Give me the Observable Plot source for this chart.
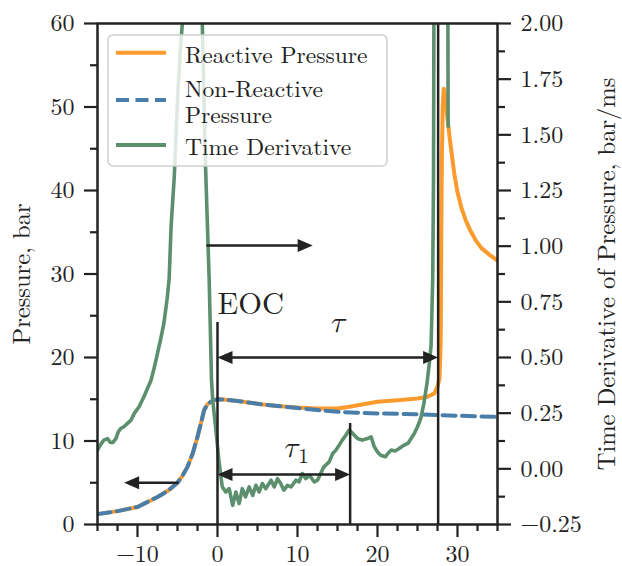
<!DOCTYPE html>
<html>
<head>
<meta charset="utf-8">
<script src="https://cdn.jsdelivr.net/npm/d3@7"></script>
<script src="https://cdn.jsdelivr.net/npm/@observablehq/plot@0.6"></script>
<style>
  body { margin: 0; background: #fff; }
  #wrap { position: relative; width: 622px; height: 566px; }
</style>
</head>
<body>
<div id="wrap"></div>
<script>
// ---------- data ----------
const reactiveTime = [-15,-12.5,-10,-7.5,-6.25,-5,-4.4,-3.75,-3.1,-2.5,-2.0,-1.67,-1.25,-0.83,-0.4,0,1,2.5,5.4,7.5,10,12.5,15,16.5,18.75,20,22.9,25,26.25,27.1,27.5,27.75,27.9,27.95,28.0,28.05,28.15,28.28,28.4,28.5,28.65,28.8,29.0,29.3,29.6,30.0,30.5,31.0,31.6,32.3,33.0,34.0,35.0];
const reactivePressure = [1.24,1.6,2.1,3.3,4.0,5.0,5.8,6.9,8.5,10.5,12.4,13.7,14.4,14.7,14.9,15.0,14.95,14.8,14.4,14.2,14.0,13.9,13.9,14.1,14.5,14.7,14.9,15.1,15.3,15.7,16.5,17.5,22,30,38,44,50,52.2,51.6,50.8,49.5,48.2,46.5,44.2,42.0,39.8,37.9,36.5,35.2,34.0,33.1,32.3,31.6];

const nonReactiveTime = [-15,-12.5,-10,-7.5,-6.25,-5,-4.4,-3.75,-3.1,-2.5,-2.0,-1.67,-1.25,-0.83,-0.4,0,1,2.5,5.4,7.5,10,12.5,15,17.5,20,22.9,25,27.5,30,32.5,35];
const nonReactivePressure = [1.24,1.6,2.1,3.3,4.0,5.0,5.8,6.9,8.5,10.5,12.4,13.7,14.4,14.7,14.9,15.0,14.95,14.8,14.4,14.2,13.95,13.7,13.5,13.38,13.3,13.25,13.2,13.1,13.03,12.96,12.88];

const derivativeTime = [-15,-14.6,-14.2,-13.75,-13.4,-13.1,-12.7,-12.4,-12.1,-11.7,-11.25,-10.8,-10.4,-9.8,-9.2,-8.75,-8.3,-7.9,-7.5,-7.1,-6.7,-6.3,-6.05,-5.8,-5.4,-5.0,-4.7,-4.4,-3.6,-2.6,-1.9,-1.5,-1.04,-0.75,-0.6,-0.2,0.2,0.6,1.04,1.46,1.9,2.3,2.7,3.1,3.5,3.96,4.4,4.8,5.2,5.6,6.04,6.7,7.1,7.5,7.9,8.3,8.75,9.2,9.8,10.2,10.6,11.04,11.5,12.1,12.5,12.9,13.3,13.96,14.4,14.8,15.2,15.6,16.04,16.45,16.9,17.5,18.1,18.75,19.2,19.6,20.0,20.4,21.0,21.3,21.7,22.2,22.7,23.3,23.8,24.2,24.6,25.0,25.4,25.8,26.2,26.5,26.7,26.9,27.0,27.05,27.3,28.5,28.8,28.83];
const derivativeValue = [0.084,0.11,0.129,0.136,0.118,0.118,0.136,0.166,0.181,0.189,0.204,0.219,0.249,0.279,0.324,0.361,0.399,0.455,0.519,0.583,0.654,0.763,0.849,1.089,1.314,1.659,1.85,2.0,3.0,3.2,2.0,1.363,0.849,0.399,0.309,0.174,0.028,-0.081,-0.104,-0.089,-0.164,-0.104,-0.156,-0.089,-0.126,-0.081,-0.119,-0.074,-0.104,-0.066,-0.089,-0.051,-0.081,-0.044,-0.066,-0.096,-0.074,-0.081,-0.051,-0.059,-0.021,-0.044,-0.029,-0.059,-0.051,-0.021,0.009,0.031,0.069,0.084,0.106,0.129,0.151,0.174,0.159,0.136,0.129,0.136,0.144,0.099,0.076,0.061,0.054,0.069,0.084,0.08,0.091,0.106,0.114,0.136,0.159,0.189,0.226,0.294,0.388,0.481,0.556,0.849,1.299,2.0,3.2,3.2,2.0,1.539];

const seriesNames = ["Reactive Pressure", "Non-Reactive\nPressure", "Time Derivative"];
const seriesColors = ["#fb9a2d", "#4a7eaa", "#5b8f6d"];

const xMajorTicks = [-10, 0, 10, 20, 30];
const xMinorTicks = [-15, -12.5, -7.5, -5, -2.5, 2.5, 5, 7.5, 12.5, 15, 17.5, 22.5, 25, 27.5, 32.5, 35];
const pressureMajorTicks = [0, 10, 20, 30, 40, 50, 60];
const pressureMinorTicks = [5, 15, 25, 35, 45, 55];
const derivMajorTicks = [-0.25, 0, 0.25, 0.5, 0.75, 1.0, 1.25, 1.5, 1.75, 2.0];
const derivMinorTicks = [-0.125, 0.125, 0.375, 0.625, 0.875, 1.125, 1.375, 1.625, 1.875];

// annotations
const markerTime = [0, 16.58, 27.58];
const markerTop = [24.2, 12.1, 60];
const arrowStart = [0, 0, -1.25, -5];
const arrowEnd = [27.58, 16.58, 11.9, -11.67];
const arrowLevel = [20, 6, 33.4, 5];
const arrowBoth = [true, true, false, false];

// ---------- helpers ----------
const FONT = "Latin Modern Roman";
const MATH = "Latin Modern Math, Latin Modern Roman";
const P_MAX = 60, D_MIN = -0.25, D_MAX = 2.0;
const toP = d => (d - D_MIN) / (D_MAX - D_MIN) * P_MAX;
const toD = p => D_MIN + p / P_MAX * (D_MAX - D_MIN);
const minus = s => s.replace("-", "\u2212");

const reactive = reactiveTime.map((t, i) => ({t, p: reactivePressure[i]}));
const nonReactive = nonReactiveTime.map((t, i) => ({t, p: nonReactivePressure[i]}));
const deriv = derivativeTime.map((t, i) => ({t, d: derivativeValue[i]}));
const markers = markerTime.map((t, i) => ({t, top: markerTop[i]}));
const arrows = arrowStart.map((x1, i) => ({x1, x2: arrowEnd[i], y: arrowLevel[i], both: arrowBoth[i]}));
const heads = [];
arrows.forEach(a => {
  const dir = Math.sign(a.x2 - a.x1);
  heads.push({x: a.x2, y: a.y, dir});
  if (a.both) heads.push({x: a.x1, y: a.y, dir: -dir});
});

const HL = 15, HW = 13;
const headRight = {draw(ctx) { ctx.moveTo(0, 0); ctx.lineTo(-HL, -HW / 2); ctx.lineTo(-HL, HW / 2); ctx.closePath(); }};
const headLeft = {draw(ctx) { ctx.moveTo(0, 0); ctx.lineTo(HL, -HW / 2); ctx.lineTo(HL, HW / 2); ctx.closePath(); }};

const ink = "#222";
const tickW = 2.2;

const plot = Plot.plot({
  width: 622,
  height: 566,
  marginLeft: 97,
  marginRight: 125,
  marginTop: 23,
  marginBottom: 42,
  x: {domain: [-15, 35]},
  y: {domain: [0, 60]},
  style: {fontFamily: FONT, fontSize: "24px", color: ink, background: "white", overflow: "visible"},
  marks: [
    Plot.line(reactive, {x: "t", y: "p", stroke: seriesColors[0], strokeWidth: 4, clip: true}),
    Plot.line(nonReactive, {x: "t", y: "p", stroke: seriesColors[1], strokeWidth: 4, strokeDasharray: "13,6.5", clip: true}),
    Plot.line(deriv, {x: "t", y: d => toP(d.d), stroke: seriesColors[2], strokeWidth: 3.6, clip: true}),
    Plot.ruleX(markers, {x: "t", y1: 0, y2: "top", stroke: ink, strokeWidth: 2.5}),
    Plot.arrow(arrows.filter(a => a.both), {x1: "x1", x2: "x2", y1: "y", y2: "y", stroke: ink, strokeWidth: 2.5, headLength: 0, insetStart: 10, insetEnd: 10}),
    Plot.arrow(arrows.filter(a => !a.both), {x1: "x1", x2: "x2", y1: "y", y2: "y", stroke: ink, strokeWidth: 2.5, headLength: 0, insetEnd: 10}),
    Plot.dot(heads.filter(h => h.dir > 0), {x: "x", y: "y", r: 1, symbol: headRight, fill: ink, stroke: "none"}),
    Plot.dot(heads.filter(h => h.dir < 0), {x: "x", y: "y", r: 1, symbol: headLeft, fill: ink, stroke: "none"}),
    Plot.text([{x: 0, y: 26.4, s: "EOC"}], {x: "x", y: "y", text: "s", textAnchor: "start", lineAnchor: "middle", fontSize: 30.5, fontFamily: FONT, fill: ink}),
    Plot.text([{x: 14.98, y: 24.23, s: "\u03C4"}], {x: "x", y: "y", text: "s", textAnchor: "middle", lineAnchor: "middle", fontSize: 30, fontStyle: "italic", fontFamily: MATH, fill: ink}),
    Plot.text([{x: 8.17, y: 9.23, s: "\u03C4"}], {x: "x", y: "y", text: "s", textAnchor: "start", lineAnchor: "middle", fontSize: 30, fontStyle: "italic", fontFamily: MATH, fill: ink}),
    Plot.text([{x: 10.1, y: 8.16, s: "1"}], {x: "x", y: "y", text: "s", textAnchor: "start", lineAnchor: "middle", fontSize: 21, fontFamily: FONT, fill: ink}),
    Plot.frame({stroke: ink, strokeWidth: 2.5}),
    Plot.axisX({ticks: xMajorTicks, tickSize: 13, tickPadding: 7, tickFormat: d => minus(String(d)), strokeWidth: tickW, label: null, fontSize: 24, fontFamily: FONT}),
    Plot.axisX({ticks: xMinorTicks, tickSize: 7, tickFormat: () => "", strokeWidth: tickW, label: null}),
    Plot.axisY({anchor: "left", ticks: pressureMajorTicks, tickSize: 13, tickPadding: 10, tickFormat: d => String(d), strokeWidth: tickW, label: null, fontSize: 24, fontFamily: FONT}),
    Plot.axisY({anchor: "left", ticks: pressureMinorTicks, tickSize: 7, tickFormat: () => "", strokeWidth: tickW, label: null}),
    Plot.axisY({anchor: "right", ticks: derivMajorTicks.map(toP), tickSize: 13, tickPadding: 10, tickFormat: p => { let v = toD(p); if (Math.abs(v) < 1e-9) v = 0; return minus(v.toFixed(2)); }, strokeWidth: tickW, label: null, fontSize: 24, fontFamily: FONT}),
    Plot.axisY({anchor: "right", ticks: derivMinorTicks.map(toP), tickSize: 7, tickFormat: () => "", strokeWidth: tickW, label: null}),
    Plot.text(["Pressure, bar"], {text: d => d, frameAnchor: "left", dx: -75, rotate: -90, textAnchor: "middle", lineAnchor: "middle", fontSize: 24.5, fontFamily: FONT, fill: ink}),
    Plot.text(["Time Derivative of Pressure, bar/ms"], {text: d => d, frameAnchor: "right", dx: 110, rotate: -90, textAnchor: "middle", lineAnchor: "middle", fontSize: 24.5, fontFamily: FONT, fill: ink})
  ]
});

const wrap = document.getElementById("wrap");
wrap.appendChild(plot);

// ---------- legend (overlay inside the plot area) ----------
const legend = d3.select(wrap).append("svg")
  .attr("width", 282).attr("height", 134)
  .style("position", "absolute").style("left", "107px").style("top", "34px")
  .attr("font-family", FONT);
legend.append("rect").attr("x", 1).attr("y", 1).attr("width", 279).attr("height", 131).attr("rx", 5)
  .attr("fill", "white").attr("fill-opacity", 0.8).attr("stroke", "#d0d0d0").attr("stroke-width", 1.5);
const rowY = [18.7, 66, 111];
const dashes = [null, "13,6.5", null];
const LINE_GAP = 25.5;
seriesNames.forEach((name, i) => {
  legend.append("line").attr("x1", 9).attr("x2", 59).attr("y1", rowY[i]).attr("y2", rowY[i])
    .attr("stroke", seriesColors[i]).attr("stroke-width", 4).attr("stroke-dasharray", dashes[i]);
  const lines = name.split("\n");
  const txt = legend.append("text")
    .attr("font-family", FONT).attr("font-size", 23.5).attr("fill", ink)
    .attr("dominant-baseline", "central");
  lines.forEach((ln, j) => {
    txt.append("tspan").attr("x", 78)
      .attr("y", rowY[i] + (j - (lines.length - 1) / 2) * LINE_GAP)
      .attr("dominant-baseline", "central")
      .text(ln);
  });
});
</script>
</body>
</html>
